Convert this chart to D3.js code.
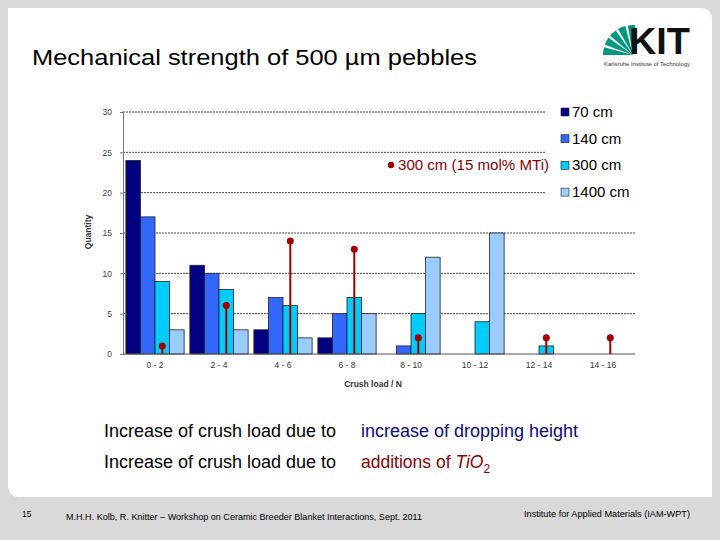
<!DOCTYPE html>
<html><head><meta charset="utf-8">
<script src="https://cdn.jsdelivr.net/npm/d3@7"></script>
<style>body{margin:0;background:#d9d9d9}svg{display:block}</style>
</head><body>
<svg id="c" width="720" height="540"></svg>
<script>
const categories = ["0 - 2","2 - 4","4 - 6","6 - 8","8 - 10","10 - 12","12 - 14","14 - 16"];
const seriesNames = ["70 cm","140 cm","300 cm","1400 cm"];
const s70 = [24,11,3,2,0,0,0,0];
const s140 = [17,10,7,5,1,0,0,0];
const s300 = [9,8,6,7,5,4,1,0];
const s1400 = [3,3,2,5,12,15,0,0];
const mti = [1,6,14,13,2,null,2,2];
const yTicks = [0,5,10,15,20,25,30];
const colors = ["#000080","#3366ff","#00ccff","#99ccff"];
const allSeries = [s70,s140,s300,s1400];

const svg = d3.select("#c");
const F = "'Liberation Sans', Arial, sans-serif";

// slide background panel
const px0=8, py0=8, px1=712, py1=497, r=12;
svg.append("path").attr("fill","#fff")
  .attr("d",`M${px0},${py0} L${px1-r},${py0} Q${px1},${py0} ${px1},${py0+r} L${px1},${py1} L${px0+r},${py1} Q${px0},${py1} ${px0},${py1-r} Z`);

// title
svg.append("text").attr("x",32).attr("y",65).attr("font-family",F).attr("font-size",22)
  .attr("textLength",445).attr("lengthAdjust","spacingAndGlyphs")
  .attr("fill","#000").text("Mechanical strength of 500 µm pebbles");

// KIT logo
const logo = svg.append("g");
const cx=633, cy=55;
const wedges=[[180,195],[200,215],[220,235],[240,255],[260,274]];
wedges.forEach(([a0,a1])=>{
  const R=30;
  const toR=d=>d*Math.PI/180;
  const p=`M${cx},${cy} L${cx+R*Math.cos(toR(a0))},${cy+R*Math.sin(toR(a0))} A${R},${R} 0 0 1 ${cx+R*Math.cos(toR(a1))},${cy+R*Math.sin(toR(a1))} Z`;
  logo.append("path").attr("d",p).attr("fill","#009682");
});
logo.append("text").attr("x",629).attr("y",54).attr("font-family",F).attr("font-weight","bold")
  .attr("font-size",36).attr("textLength",61).attr("lengthAdjust","spacingAndGlyphs").attr("fill","#111").text("KIT");
logo.append("text").attr("x",604).attr("y",66).attr("font-family",F).attr("font-size",4.5)
  .attr("textLength",86).attr("lengthAdjust","spacingAndGlyphs").attr("fill","#333").text("Karlsruhe Institute of Technology");

// chart
const x0=123, x1=635, yTop=112, yBot=354;
const x = d3.scaleBand().domain(categories).range([x0,x1]).paddingInner(0.09).paddingOuter(0.045);
const xs = d3.scaleBand().domain(seriesNames).range([0,x.bandwidth()]);
const y = d3.scaleLinear().domain([0,30]).range([yBot,yTop]);

const g = svg.append("g");
// gridlines
yTicks.filter(t=>t>0).forEach(t=>{
  g.append("line").attr("x1",x0).attr("x2",t>=20?545:x1).attr("y1",y(t)).attr("y2",y(t))
   .attr("stroke","#444").attr("stroke-width",1).attr("stroke-dasharray","2,1");
});

// bars
allSeries.forEach((s,si)=>{
  g.selectAll(null).data(s.map((v,i)=>({v,c:categories[i]}))).join("rect")
   .filter(d=>d.v>0)
   .attr("x",d=>x(d.c)+xs(seriesNames[si])).attr("width",xs.bandwidth())
   .attr("y",d=>y(d.v)).attr("height",d=>y(0)-y(d.v))
   .attr("fill",colors[si]).attr("stroke","#222").attr("stroke-width",0.8);
});

// axes
const yAxis = d3.axisLeft(y).tickValues(yTicks).tickSize(3).tickPadding(8);
const ya = svg.append("g").attr("transform",`translate(${x0},0)`).call(yAxis);
ya.select(".domain").attr("stroke","#777");
ya.selectAll(".tick line").attr("stroke","#777");
ya.selectAll("text").attr("font-family",F).attr("font-size",8.5).attr("fill","#444");

const xAxis = d3.axisBottom(x).tickSize(0).tickPadding(8);
const xa = svg.append("g").attr("transform",`translate(0,${yBot})`).call(xAxis);
xa.select(".domain").attr("stroke","#555").attr("d",`M${x0},0H${x1}`);
xa.selectAll("text").attr("font-family",F).attr("font-size",8.5).attr("fill","#333");

// MTi stems
const mx = c => x(c)+xs("300 cm")+xs.bandwidth()/2;
const md = mti.map((v,i)=>({v,c:categories[i]})).filter(d=>d.v!==null);
svg.selectAll(null).data(md).join("line")
  .attr("x1",d=>mx(d.c)).attr("x2",d=>mx(d.c)).attr("y1",y(0)).attr("y2",d=>y(d.v))
  .attr("stroke","#a00000").attr("stroke-width",2);
svg.selectAll(null).data(md).join("circle")
  .attr("cx",d=>mx(d.c)).attr("cy",d=>y(d.v)).attr("r",3.5).attr("fill","#a00000");

// axis titles
svg.append("text").attr("transform","translate(91,232) rotate(-90)").attr("text-anchor","middle")
  .attr("font-family",F).attr("font-size",8.5).attr("font-weight","bold").attr("fill","#333").text("Quantity");
svg.append("text").attr("x",373).attr("y",387).attr("text-anchor","middle")
  .attr("font-family",F).attr("font-size",8.5).attr("font-weight","bold").attr("fill","#333").text("Crush load / N");

// legend
const lg = svg.append("g");
seriesNames.forEach((n,i)=>{
  const ly = 112 + i*26.7;
  lg.append("rect").attr("x",561).attr("y",ly-4).attr("width",8).attr("height",8)
    .attr("fill",colors[i]).attr("stroke","#222").attr("stroke-width",0.6);
  lg.append("text").attr("x",572).attr("y",ly+5).attr("font-family",F).attr("font-size",15)
    .attr("fill","#000").text(n);
});
lg.append("circle").attr("cx",391).attr("cy",165).attr("r",3.2).attr("fill","#a00000");
lg.append("text").attr("x",398).attr("y",170).attr("font-family",F).attr("font-size",15)
  .attr("textLength",151).attr("lengthAdjust","spacingAndGlyphs")
  .attr("fill","#8b0000").text("300 cm (15 mol% MTi)");

// bottom text
const FS=17.5;
svg.append("text").attr("x",104).attr("y",437).attr("font-family",F).attr("font-size",FS).attr("fill","#000")
  .attr("textLength",232).attr("lengthAdjust","spacingAndGlyphs").text("Increase of crush load due to");
svg.append("text").attr("x",361).attr("y",437).attr("font-family",F).attr("font-size",FS).attr("fill","#0a0a80")
  .attr("textLength",217).attr("lengthAdjust","spacingAndGlyphs").text("increase of dropping height");
svg.append("text").attr("x",104).attr("y",468).attr("font-family",F).attr("font-size",FS).attr("fill","#000")
  .attr("textLength",232).attr("lengthAdjust","spacingAndGlyphs").text("Increase of crush load due to");
const t4 = svg.append("text").attr("x",361).attr("y",468).attr("font-family",F).attr("font-size",FS).attr("fill","#8b0000");
t4.append("tspan").text("additions of ");
t4.append("tspan").attr("font-style","italic").text("TiO");
t4.append("tspan").attr("font-size",12).attr("dy",5).text("2");

// footer
svg.append("text").attr("x",22).attr("y",517).attr("font-family",F).attr("font-size",8.5).attr("fill","#000").text("15");
svg.append("text").attr("x",66).attr("y",520).attr("font-family",F).attr("font-size",9)
  .attr("textLength",356).attr("lengthAdjust","spacingAndGlyphs").attr("fill","#000")
  .text("M.H.H. Kolb, R. Knitter – Workshop on Ceramic Breeder Blanket Interactions, Sept. 2011");
svg.append("text").attr("x",524).attr("y",517).attr("font-family",F).attr("font-size",9)
  .attr("textLength",166).attr("lengthAdjust","spacingAndGlyphs").attr("fill","#000")
  .text("Institute for Applied Materials (IAM-WPT)");
</script>
</body></html>
